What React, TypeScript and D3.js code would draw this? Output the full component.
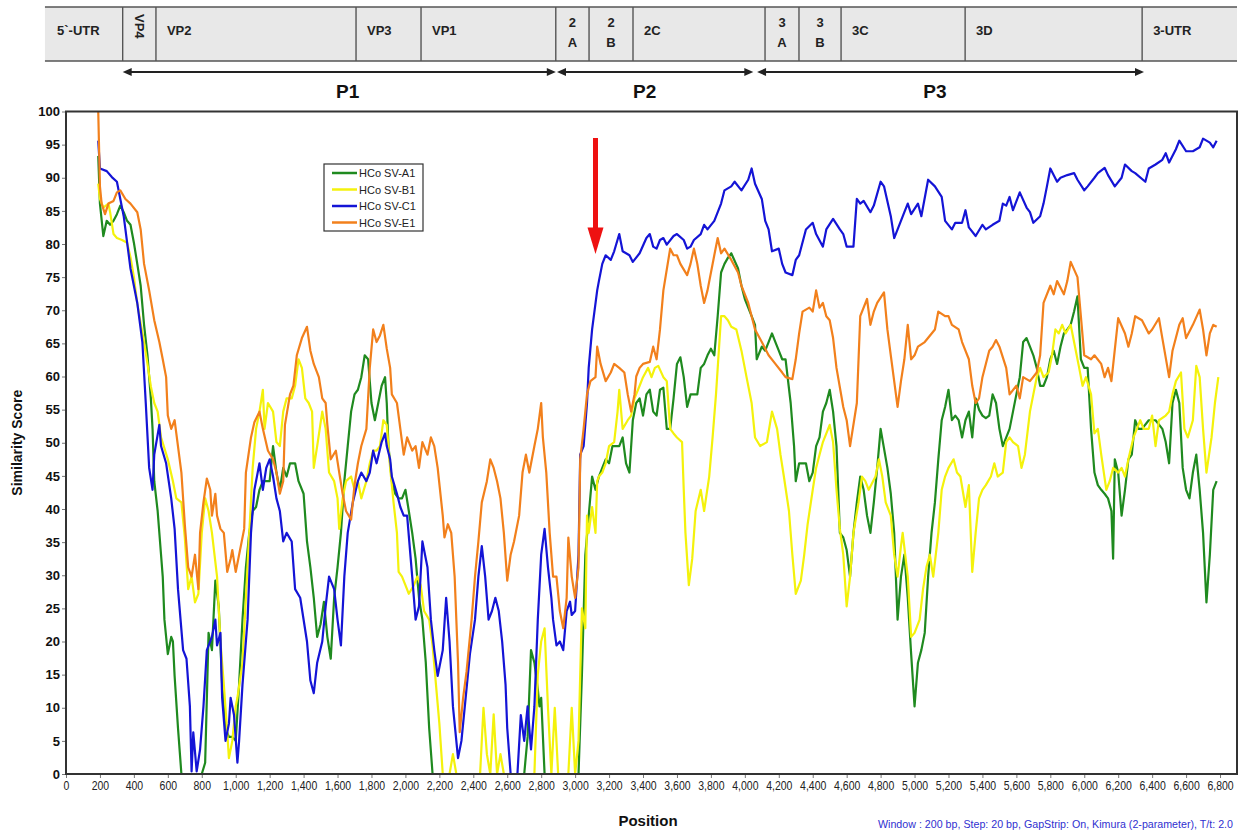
import React, { useEffect, useRef } from 'react';
import * as d3 from 'd3';

// Similarity plot (SimPlot style) of HCoSV strains against the query genome.
// Each series: [genome position (bp), similarity score (%)]

const seriesNames = ['HCo SV-A1', 'HCo SV-B1', 'HCo SV-C1', 'HCo SV-E1'];
const seriesColors = ['#1f8a1f', '#f4f20c', '#1414d6', '#f2801c'];

const scoresA1: [number, number][] = [
  [190, 93.3], [200, 86.1], [220, 81.2], [240, 83.5], [260, 82.9], [280, 83.5], [300, 84.5], [320, 85.8],
  [340, 84.8], [360, 83.5], [380, 82.9], [400, 80.2], [420, 77.0], [440, 73.7], [460, 67.8], [480, 63.2],
  [500, 56.7], [510, 52.1], [520, 44.2], [540, 39.7], [560, 33.1], [570, 29.8], [580, 23.3], [600, 18.1],
  [620, 20.7], [630, 20.0], [640, 14.8], [660, 6.9], [680, 0], [800, 0], [820, 1.7], [840, 21.3],
  [860, 18.7], [880, 29.2], [900, 25.3], [920, 13.5], [940, 6.9], [960, 5.6], [980, 5.6], [1000, 5.0],
  [1020, 13.5], [1040, 23.3], [1060, 31.2], [1080, 36.4], [1100, 39.7], [1120, 40.3], [1140, 42.9],
  [1160, 44.2], [1200, 44.2], [1220, 49.5], [1240, 45.5], [1260, 42.9], [1280, 46.2], [1300, 44.9],
  [1320, 46.9], [1350, 46.9], [1370, 44.2], [1400, 42.3], [1420, 35.1], [1440, 31.2], [1460, 26.6],
  [1480, 20.7], [1500, 22.6], [1520, 26.0], [1540, 20.7], [1560, 17.4], [1580, 26.6], [1600, 31.2],
  [1620, 36.4], [1640, 44.2], [1660, 49.5], [1680, 54.7], [1700, 57.3], [1720, 58.0], [1740, 59.9],
  [1760, 63.2], [1780, 62.6], [1800, 56.0], [1820, 53.4], [1840, 56.0], [1860, 58.6], [1880, 59.9],
  [1890, 56.0], [1900, 49.5], [1920, 44.2], [1940, 42.3], [1960, 41.6], [1980, 41.6], [2000, 42.9],
  [2020, 39.7], [2040, 36.4], [2060, 32.5], [2080, 26.6], [2100, 23.3], [2120, 16.8], [2140, 6.9],
  [2160, 0], [2700, 0], [2720, 5.6], [2740, 18.7], [2760, 16.8], [2780, 12.8], [2790, 10.2], [2800, 11.5],
  [2820, 0], [3020, 0], [3040, 15.0], [3060, 33.0], [3080, 39.0], [3100, 44.9], [3120, 42.9], [3140, 44.9],
  [3160, 46.2], [3180, 47.5], [3200, 46.9], [3220, 49.5], [3260, 49.5], [3280, 50.8], [3300, 46.9],
  [3320, 45.5], [3340, 53.4], [3360, 56.0], [3380, 56.7], [3400, 54.1], [3420, 57.3], [3440, 58.0],
  [3460, 54.7], [3480, 54.1], [3500, 58.0], [3520, 58.3], [3540, 52.1], [3560, 52.1], [3580, 56.7],
  [3600, 61.9], [3620, 62.9], [3640, 59.9], [3660, 55.4], [3680, 57.3], [3720, 57.3], [3740, 61.3],
  [3760, 61.9], [3780, 63.2], [3800, 64.2], [3820, 63.2], [3840, 69.1], [3860, 75.7], [3880, 77.0],
  [3900, 77.9], [3920, 78.6], [3960, 76.3], [3980, 73.7], [4000, 71.7], [4040, 69.1], [4060, 67.8],
  [4070, 62.6], [4100, 64.5], [4120, 63.9], [4140, 65.2], [4160, 66.5], [4180, 65.2], [4200, 63.9],
  [4220, 62.6], [4240, 62.6], [4270, 56.0], [4290, 49.5], [4300, 44.2], [4320, 46.9], [4360, 46.9],
  [4380, 44.2], [4400, 45.5], [4420, 49.5], [4440, 50.8], [4460, 54.7], [4480, 56.0], [4500, 58.0],
  [4520, 54.7], [4540, 49.5], [4560, 36.4], [4580, 35.7], [4600, 33.8], [4620, 29.8], [4640, 36.4],
  [4660, 41.0], [4680, 44.9], [4700, 42.9], [4720, 39.0], [4740, 36.4], [4760, 41.0], [4780, 46.2],
  [4800, 52.1], [4840, 46.2], [4860, 42.3], [4880, 36.4], [4900, 23.3], [4920, 29.8], [4940, 33.1],
  [4960, 26.6], [4980, 18.1], [5000, 10.2], [5020, 16.8], [5040, 18.7], [5060, 21.3], [5080, 29.8],
  [5100, 36.4], [5120, 41.0], [5140, 47.5], [5160, 53.4], [5180, 55.4], [5200, 58.0], [5220, 53.4],
  [5240, 54.1], [5260, 53.4], [5280, 50.8], [5300, 53.4], [5320, 54.7], [5340, 50.8], [5360, 56.7],
  [5380, 55.0], [5400, 54.1], [5420, 53.7], [5440, 54.1], [5460, 57.3], [5480, 56.0], [5500, 52.1],
  [5520, 49.5], [5560, 52.1], [5580, 54.7], [5600, 57.3], [5620, 59.9], [5640, 65.2], [5660, 65.8],
  [5680, 64.5], [5700, 63.2], [5720, 61.3], [5740, 58.6], [5760, 58.6], [5780, 59.9], [5800, 62.6],
  [5820, 63.9], [5840, 61.9], [5860, 64.5], [5880, 66.5], [5900, 67.1], [5920, 67.8], [5940, 69.8],
  [5960, 72.1], [5980, 62.6], [6000, 61.3], [6020, 61.3], [6040, 52.1], [6060, 45.5], [6080, 43.6],
  [6100, 42.9], [6120, 42.3], [6140, 41.6], [6160, 39.7], [6170, 32.5], [6180, 47.5], [6200, 45.5],
  [6220, 39.0], [6240, 42.9], [6260, 47.5], [6280, 48.2], [6300, 53.4], [6320, 52.1], [6340, 52.1],
  [6380, 53.4], [6420, 53.4], [6460, 52.1], [6480, 50.1], [6500, 46.9], [6520, 56.0], [6540, 58.0],
  [6560, 56.0], [6580, 46.2], [6600, 42.9], [6620, 41.6], [6640, 45.5], [6660, 48.2], [6680, 42.9],
  [6700, 36.4], [6720, 25.9], [6740, 33.1], [6760, 42.9], [6780, 44.2],
];

const scoresB1: [number, number][] = [
  [190, 89.1], [200, 86.8], [220, 85.5], [250, 86.1], [260, 84.8], [280, 81.5], [300, 80.9], [330, 80.6],
  [360, 80.2], [380, 78.0], [400, 75.0], [420, 71.0], [440, 68.0], [460, 65.2], [480, 61.9], [500, 58.5],
  [520, 56.0], [540, 54.7], [560, 50.8], [600, 47.5], [630, 44.2], [650, 41.6], [680, 41.0], [700, 35.7],
  [720, 27.9], [740, 29.8], [760, 25.9], [780, 27.2], [800, 36.4], [820, 41.6], [840, 39.7], [860, 36.4],
  [890, 29.8], [910, 20.0], [930, 13.5], [950, 6.3], [960, 2.4], [980, 5.0], [1000, 10.2], [1010, 11.5],
  [1040, 16.8], [1060, 26.6], [1080, 36.4], [1100, 46.2], [1120, 52.1], [1140, 54.7], [1160, 58.0],
  [1170, 52.1], [1190, 56.0], [1220, 54.7], [1240, 50.1], [1260, 49.5], [1280, 54.7], [1300, 56.7],
  [1330, 56.7], [1350, 58.6], [1370, 62.6], [1390, 61.3], [1410, 56.7], [1430, 56.0], [1450, 54.7],
  [1460, 46.2], [1480, 49.5], [1510, 54.7], [1530, 52.1], [1550, 45.5], [1580, 44.2], [1600, 41.6],
  [1610, 37.0], [1630, 41.6], [1650, 44.2], [1680, 44.9], [1700, 42.9], [1720, 44.2], [1740, 41.6],
  [1770, 44.2], [1790, 46.9], [1810, 48.8], [1830, 48.8], [1850, 49.5], [1870, 53.4], [1890, 52.7],
  [1910, 46.2], [1930, 41.0], [1950, 36.4], [1960, 30.5], [1980, 29.8], [2000, 28.5], [2020, 27.2],
  [2050, 28.5], [2070, 29.8], [2090, 28.5], [2110, 24.6], [2140, 23.3], [2160, 19.4], [2180, 13.5],
  [2200, 7.6], [2220, 0], [2260, 0], [2280, 3.0], [2300, 0], [2440, 0], [2460, 10.0], [2480, 3.0],
  [2500, 0], [2520, 9.0], [2540, 0], [2560, 3.0], [2580, 0], [2760, 0], [2780, 15.0], [2800, 20.0],
  [2820, 22.0], [2840, 10.0], [2860, 0], [2880, 10.0], [2900, 0], [2960, 0], [2980, 10.0], [3000, 0],
  [3020, 5.0], [3040, 25.0], [3060, 22.0], [3070, 39.0], [3080, 36.4], [3100, 40.3], [3120, 36.4],
  [3130, 44.2], [3140, 44.9], [3160, 45.5], [3180, 46.9], [3200, 49.5], [3230, 50.1], [3250, 54.7],
  [3260, 58.0], [3280, 52.1], [3310, 53.4], [3330, 54.1], [3350, 56.7], [3380, 58.6], [3400, 59.9],
  [3430, 61.3], [3450, 59.9], [3470, 61.3], [3490, 61.6], [3520, 59.9], [3540, 59.3], [3560, 52.1],
  [3580, 51.4], [3600, 50.8], [3630, 50.1], [3640, 42.9], [3650, 36.4], [3670, 28.5], [3690, 32.5],
  [3710, 39.7], [3740, 42.9], [3760, 39.7], [3790, 44.9], [3810, 50.8], [3830, 57.3], [3860, 69.1],
  [3880, 69.1], [3900, 68.5], [3920, 67.5], [3950, 67.1], [3980, 63.9], [4010, 59.9], [4040, 56.0],
  [4060, 50.8], [4090, 49.5], [4130, 50.1], [4160, 54.7], [4190, 52.1], [4210, 48.2], [4230, 44.9],
  [4260, 39.7], [4280, 33.1], [4300, 27.2], [4330, 29.2], [4350, 33.1], [4370, 37.7], [4400, 42.9],
  [4420, 46.2], [4440, 48.2], [4460, 50.1], [4500, 52.7], [4520, 50.1], [4540, 42.9], [4560, 37.0],
  [4580, 33.1], [4600, 25.3], [4620, 29.8], [4640, 36.4], [4670, 41.0], [4690, 44.9], [4710, 44.2],
  [4730, 42.9], [4770, 44.9], [4790, 47.5], [4810, 44.9], [4830, 41.0], [4860, 39.0], [4880, 33.1],
  [4900, 29.8], [4920, 34.4], [4930, 36.4], [4960, 29.8], [4980, 20.7], [5000, 21.3], [5030, 23.3],
  [5050, 27.9], [5070, 31.2], [5090, 33.1], [5110, 29.8], [5140, 36.4], [5160, 42.9], [5180, 44.9],
  [5200, 46.2], [5230, 47.5], [5250, 45.5], [5270, 44.9], [5300, 40.3], [5320, 43.6], [5340, 30.5],
  [5360, 36.4], [5380, 41.6], [5400, 42.9], [5420, 43.6], [5450, 44.9], [5470, 46.9], [5490, 44.9],
  [5520, 45.5], [5540, 50.1], [5560, 50.8], [5580, 50.1], [5610, 49.5], [5630, 46.2], [5650, 48.2],
  [5680, 54.7], [5700, 57.3], [5720, 59.9], [5740, 61.3], [5760, 59.9], [5790, 60.6], [5810, 63.2],
  [5830, 67.1], [5850, 66.5], [5870, 67.8], [5890, 66.5], [5920, 67.8], [5940, 65.2], [5970, 61.3],
  [5990, 58.6], [6010, 59.9], [6040, 57.3], [6060, 51.4], [6080, 52.1], [6100, 48.2], [6130, 42.9],
  [6150, 44.2], [6170, 46.2], [6200, 45.5], [6220, 46.2], [6240, 44.9], [6260, 47.5], [6290, 50.8],
  [6310, 52.1], [6330, 53.4], [6350, 52.1], [6380, 52.1], [6400, 54.1], [6420, 49.5], [6440, 53.4],
  [6480, 54.1], [6500, 54.7], [6520, 57.3], [6540, 59.3], [6570, 60.6], [6590, 52.1], [6610, 50.8],
  [6640, 53.4], [6660, 61.6], [6680, 59.9], [6700, 52.1], [6720, 45.5], [6750, 50.8], [6770, 56.0],
  [6790, 59.9],
];

const scoresC1: [number, number][] = [
  [190, 95.6], [200, 91.4], [240, 91.0], [270, 90.1], [300, 89.4], [340, 84.2], [380, 76.3], [420, 71.1],
  [450, 65.2], [470, 56.0], [490, 46.2], [510, 42.9], [520, 48.2], [550, 52.7], [560, 49.5], [590, 46.9],
  [620, 41.6], [640, 37.0], [660, 27.9], [690, 18.7], [710, 17.4], [730, 10.2], [740, 0.4], [750, 6.3],
  [770, 0.4], [790, 3.7], [810, 10.2], [830, 18.7], [860, 20.7], [880, 23.3], [890, 19.4], [910, 21.3],
  [920, 11.5], [940, 5.0], [960, 7.6], [970, 11.5], [990, 8.9], [1010, 1.7], [1020, 5.0], [1040, 13.5],
  [1070, 23.3], [1090, 36.4], [1110, 42.9], [1140, 46.9], [1160, 42.9], [1180, 46.2], [1200, 47.5],
  [1220, 44.9], [1240, 41.6], [1260, 39.7], [1280, 35.1], [1300, 36.4], [1330, 35.1], [1350, 27.9],
  [1380, 26.6], [1420, 20.0], [1440, 14.1], [1460, 12.2], [1480, 16.8], [1510, 20.0], [1530, 25.3],
  [1550, 29.8], [1580, 27.9], [1600, 23.3], [1620, 19.4], [1640, 29.8], [1660, 36.4], [1690, 41.0],
  [1720, 44.2], [1740, 45.5], [1770, 44.2], [1790, 45.5], [1810, 48.8], [1830, 46.9], [1860, 50.1],
  [1880, 51.4], [1890, 49.5], [1910, 47.5], [1920, 44.9], [1950, 42.3], [1970, 40.3], [1990, 39.0],
  [2010, 39.0], [2040, 29.8], [2060, 23.3], [2080, 25.3], [2100, 35.1], [2130, 31.2], [2150, 23.3],
  [2170, 18.7], [2190, 14.8], [2220, 18.7], [2240, 26.6], [2260, 20.0], [2280, 10.2], [2310, 2.4],
  [2330, 5.0], [2350, 10.2], [2380, 18.1], [2410, 23.3], [2430, 29.8], [2450, 34.4], [2470, 29.8],
  [2490, 23.3], [2510, 24.6], [2530, 26.6], [2550, 24.6], [2570, 20.0], [2590, 13.5], [2600, 6.9],
  [2620, 0], [2660, 0], [2680, 8.9], [2700, 5.0], [2720, 10.2], [2740, 3.7], [2760, 10.2], [2780, 23.3],
  [2800, 33.1], [2820, 37.0], [2840, 31.2], [2860, 26.6], [2870, 23.3], [2890, 19.4], [2910, 20.0],
  [2930, 18.7], [2950, 24.6], [2970, 26.0], [2980, 24.0], [3000, 24.6], [3020, 33.1], [3030, 48.2],
  [3050, 49.5], [3070, 56.0], [3080, 61.3], [3100, 67.1], [3130, 73.0], [3140, 74.4], [3160, 77.0],
  [3180, 78.3], [3210, 77.6], [3230, 78.9], [3260, 81.5], [3280, 78.9], [3320, 78.3], [3340, 77.3],
  [3380, 78.6], [3420, 80.9], [3440, 81.5], [3460, 79.6], [3480, 79.3], [3500, 80.6], [3520, 80.9],
  [3540, 79.9], [3580, 81.2], [3600, 81.5], [3640, 80.6], [3660, 79.3], [3680, 79.6], [3700, 80.6],
  [3740, 81.5], [3760, 82.9], [3780, 82.2], [3820, 83.5], [3860, 86.1], [3880, 88.1], [3920, 88.7],
  [3940, 89.4], [3980, 88.1], [4020, 89.7], [4040, 91.4], [4060, 89.1], [4100, 86.8], [4120, 83.5],
  [4140, 82.2], [4160, 78.9], [4200, 79.3], [4220, 77.0], [4240, 75.7], [4280, 75.3], [4300, 77.6],
  [4320, 78.3], [4360, 82.2], [4400, 83.2], [4420, 81.5], [4460, 79.6], [4480, 82.2], [4520, 83.8],
  [4560, 82.2], [4580, 81.5], [4600, 79.6], [4640, 79.6], [4660, 86.8], [4680, 86.1], [4700, 86.5],
  [4740, 84.8], [4760, 85.8], [4800, 89.4], [4820, 88.7], [4860, 84.2], [4880, 80.9], [4940, 84.8],
  [4960, 86.1], [4980, 84.5], [5020, 86.1], [5040, 84.2], [5080, 89.7], [5120, 88.7], [5160, 87.1],
  [5180, 83.5], [5220, 82.2], [5240, 83.2], [5280, 83.2], [5300, 85.1], [5320, 82.5], [5360, 81.2],
  [5400, 82.9], [5420, 82.2], [5460, 82.9], [5500, 83.5], [5520, 86.1], [5540, 85.8], [5560, 87.1],
  [5580, 85.1], [5620, 87.8], [5660, 85.5], [5680, 84.8], [5700, 83.2], [5740, 84.2], [5760, 86.1],
  [5780, 88.7], [5800, 91.4], [5840, 89.4], [5860, 90.0], [5900, 90.4], [5940, 90.7], [5960, 89.7],
  [6000, 88.1], [6020, 88.7], [6060, 90.0], [6080, 90.7], [6120, 91.5], [6140, 90.4], [6180, 88.7],
  [6220, 90.0], [6240, 92.0], [6280, 91.0], [6300, 90.7], [6360, 89.4], [6380, 91.4], [6420, 92.0],
  [6460, 92.7], [6480, 93.7], [6500, 92.3], [6540, 94.3], [6560, 95.6], [6600, 94.0], [6640, 94.0],
  [6680, 94.6], [6700, 95.9], [6740, 95.3], [6760, 94.6], [6780, 95.6],
];

const scoresE1: [number, number][] = [
  [190, 100], [200, 88.7], [210, 86.1], [230, 84.5], [250, 86.1], [280, 86.5], [300, 87.8], [320, 88.1],
  [350, 86.8], [380, 86.1], [420, 84.8], [440, 82.2], [460, 77.0], [490, 73.0], [520, 68.5], [550, 65.2],
  [570, 62.6], [590, 59.9], [600, 54.1], [620, 52.1], [640, 53.4], [650, 51.4], [680, 45.5], [700, 37.7],
  [720, 31.2], [740, 29.8], [760, 33.1], [780, 27.9], [790, 36.4], [810, 41.0], [830, 44.6], [850, 42.9],
  [860, 39.0], [880, 42.3], [890, 39.0], [910, 37.0], [930, 36.4], [950, 30.5], [970, 32.5], [980, 33.8],
  [1000, 30.5], [1020, 33.1], [1050, 37.0], [1060, 45.5], [1090, 50.8], [1110, 53.1], [1140, 54.7],
  [1160, 52.1], [1190, 48.8], [1220, 47.5], [1240, 45.5], [1260, 42.3], [1280, 44.2], [1290, 52.7],
  [1320, 57.3], [1340, 58.6], [1360, 63.2], [1390, 65.8], [1420, 67.5], [1440, 63.9], [1460, 61.9],
  [1490, 59.9], [1510, 56.7], [1530, 56.0], [1540, 52.7], [1560, 47.5], [1590, 48.8], [1610, 45.5],
  [1630, 42.3], [1650, 39.7], [1680, 38.4], [1700, 43.6], [1720, 46.9], [1740, 49.5], [1770, 52.1],
  [1790, 61.3], [1810, 67.1], [1830, 65.2], [1850, 66.2], [1870, 67.8], [1890, 64.2], [1910, 61.3],
  [1920, 57.3], [1950, 56.0], [1970, 52.1], [1990, 48.2], [2010, 50.8], [2040, 48.8], [2060, 49.5],
  [2080, 46.2], [2100, 50.1], [2130, 48.2], [2150, 50.8], [2170, 49.5], [2190, 46.2], [2220, 39.0],
  [2230, 35.7], [2250, 37.7], [2270, 36.4], [2290, 29.8], [2310, 16.8], [2320, 6.3], [2340, 11.5],
  [2360, 15.4], [2390, 23.3], [2410, 29.8], [2430, 35.1], [2450, 41.0], [2480, 44.2], [2500, 47.5],
  [2520, 46.2], [2540, 44.2], [2560, 41.6], [2580, 36.4], [2600, 29.2], [2620, 33.1], [2640, 35.1],
  [2670, 39.0], [2690, 45.5], [2710, 48.2], [2730, 45.5], [2760, 49.5], [2780, 52.1], [2800, 56.0],
  [2810, 50.8], [2830, 45.5], [2850, 36.4], [2870, 29.8], [2890, 29.8], [2910, 24.6], [2930, 22.0],
  [2950, 26.6], [2960, 35.7], [2980, 29.8], [3000, 26.6], [3020, 31.2], [3030, 47.5], [3050, 52.1],
  [3070, 57.3], [3090, 59.3], [3120, 59.9], [3130, 64.5], [3150, 61.9], [3180, 59.3], [3210, 60.6],
  [3230, 61.9], [3260, 61.3], [3290, 60.6], [3310, 57.3], [3330, 54.7], [3350, 57.3], [3360, 60.0],
  [3380, 61.3], [3400, 61.9], [3440, 62.2], [3460, 64.5], [3480, 62.6], [3500, 67.1], [3520, 73.0],
  [3560, 79.3], [3580, 78.3], [3600, 78.3], [3620, 77.0], [3660, 75.3], [3680, 77.0], [3700, 79.3],
  [3720, 77.0], [3740, 73.7], [3760, 71.1], [3780, 73.0], [3820, 78.3], [3840, 80.9], [3860, 78.6],
  [3880, 79.3], [3920, 77.6], [3960, 75.7], [3980, 73.7], [4020, 71.1], [4040, 69.1], [4060, 67.1],
  [4100, 65.2], [4140, 63.2], [4180, 61.9], [4220, 60.6], [4240, 59.9], [4280, 59.6], [4300, 62.6],
  [4320, 66.5], [4340, 69.8], [4380, 70.4], [4400, 69.8], [4420, 73.0], [4440, 70.4], [4460, 71.1],
  [4480, 69.1], [4500, 68.5], [4520, 65.8], [4540, 61.3], [4580, 55.4], [4600, 53.4], [4620, 49.5],
  [4660, 56.0], [4680, 69.1], [4720, 71.7], [4740, 67.8], [4760, 69.8], [4780, 71.1], [4820, 72.7],
  [4840, 67.1], [4860, 63.2], [4880, 59.3], [4900, 55.4], [4920, 59.3], [4940, 62.6], [4960, 67.8],
  [4980, 62.6], [5000, 63.2], [5020, 64.5], [5060, 65.2], [5120, 67.1], [5140, 69.8], [5180, 69.1],
  [5200, 69.1], [5220, 67.8], [5260, 67.1], [5280, 65.2], [5320, 62.6], [5340, 58.6], [5360, 56.0],
  [5380, 56.7], [5400, 59.9], [5440, 63.9], [5460, 64.5], [5480, 65.5], [5500, 64.5], [5540, 61.3],
  [5560, 57.3], [5600, 58.6], [5620, 56.7], [5640, 59.9], [5680, 59.3], [5720, 60.6], [5740, 63.2],
  [5760, 71.1], [5800, 73.7], [5820, 72.4], [5840, 74.4], [5880, 72.4], [5900, 74.4], [5920, 77.3],
  [5960, 75.0], [5980, 69.1], [6000, 63.2], [6040, 62.6], [6060, 63.2], [6100, 61.9], [6120, 59.9],
  [6140, 61.3], [6160, 59.3], [6200, 68.8], [6240, 66.5], [6260, 64.5], [6280, 66.5], [6300, 69.1],
  [6340, 68.5], [6380, 66.5], [6400, 67.1], [6440, 68.8], [6460, 65.8], [6500, 59.9], [6520, 63.9],
  [6560, 67.8], [6580, 68.8], [6600, 65.8], [6640, 67.8], [6680, 70.1], [6700, 67.1], [6720, 63.2],
  [6740, 66.5], [6760, 67.8], [6780, 67.5],
];

// genome map drawn above the plot (boundaries in bp on the same x scale)
const genomeRegions = ['5`-UTR', 'VP4', 'VP2', 'VP3', 'VP1', '2\nA', '2\nB', '2C', '3\nA', '3\nB', '3C', '3D', '3-UTR'];
const genomeBounds = [-124, 334, 530, 1709, 2092, 2886, 3082, 3341, 4119, 4319, 4567, 5298, 6341, 6900];
const polyproteins = ['P1', 'P2', 'P3'];
const polyStarts = [334, 2893, 4072];
const polyEnds = [2886, 4050, 6352];
const polyLabelAt = [1660, 3410, 5120];

const yTicks = d3.range(0, 101, 5);
const xTicks = d3.range(0, 6801, 200);
const arrowAt = 3120;

const FONT = '"Liberation Sans", Arial, Helvetica, sans-serif';

const App = () => {
  const ref = useRef<SVGSVGElement | null>(null);

  useEffect(() => {
    document.body.style.margin = '0';
    const svg = d3.select(ref.current);
    svg.selectAll('*').remove();

    const x = d3.scaleLinear().domain([0, 6900]).range([66, 1237]);
    const y = d3.scaleLinear().domain([0, 100]).range([774, 111.5]);

    // --- genome map ---
    const map = svg.append('g');
    map.append('rect')
      .attr('x', x(genomeBounds[0]))
      .attr('y', 7)
      .attr('width', x(genomeBounds[genomeBounds.length - 1]) - x(genomeBounds[0]))
      .attr('height', 54)
      .attr('fill', '#e8e8e8');
    [7, 61].forEach(yy => {
      map.append('line')
        .attr('x1', x(genomeBounds[0])).attr('x2', x(genomeBounds[genomeBounds.length - 1]))
        .attr('y1', yy).attr('y2', yy)
        .attr('stroke', '#555').attr('stroke-width', 1.6);
    });
    genomeBounds.slice(1, -1).forEach(b => {
      map.append('line')
        .attr('x1', x(b)).attr('x2', x(b)).attr('y1', 7).attr('y2', 61)
        .attr('stroke', '#555').attr('stroke-width', 1.4);
    });
    genomeRegions.forEach((name, i) => {
      const x0 = x(genomeBounds[i]);
      const x1 = x(genomeBounds[i + 1]);
      const t = map.append('text')
        .attr('font-family', FONT).attr('font-weight', 'bold').attr('font-size', 13)
        .attr('fill', '#222');
      if (name === 'VP4') {
        t.attr('transform', `translate(${(x0 + x1) / 2 - 4},${14}) rotate(90)`)
          .attr('text-anchor', 'start').text(name);
      } else if (name.includes('\n')) {
        const parts = name.split('\n');
        t.attr('text-anchor', 'middle');
        t.append('tspan').attr('x', (x0 + x1) / 2).attr('y', 27).text(parts[0]);
        t.append('tspan').attr('x', (x0 + x1) / 2).attr('y', 47).text(parts[1]);
      } else {
        t.attr('x', i === 0 ? 57 : x0 + 11).attr('y', 35).text(name);
      }
    });

    // polyprotein arrows
    const head = (px: number, py: number, dir: number) =>
      `M${px},${py} L${px - dir * 9},${py - 4} L${px - dir * 9},${py + 4} Z`;
    polyproteins.forEach((p, i) => {
      const a = x(polyStarts[i]);
      const b = x(polyEnds[i]);
      map.append('line').attr('x1', a + 4).attr('x2', b - 4).attr('y1', 72).attr('y2', 72)
        .attr('stroke', '#222').attr('stroke-width', 2);
      map.append('path').attr('d', head(a, 72, -1)).attr('fill', '#222');
      map.append('path').attr('d', head(b, 72, 1)).attr('fill', '#222');
      map.append('text')
        .attr('x', x(polyLabelAt[i])).attr('y', 98)
        .attr('text-anchor', 'middle')
        .attr('font-family', FONT).attr('font-weight', 'bold').attr('font-size', 19)
        .attr('fill', '#111')
        .text(p);
    });

    // --- axes ---
    const yAxis = svg.append('g')
      .attr('transform', `translate(${x(0)},0)`)
      .call(d3.axisLeft(y).tickValues(yTicks).tickSize(4).tickSizeOuter(0));
    yAxis.select('.domain').remove();
    yAxis.selectAll('line').attr('stroke', '#777');
    yAxis.selectAll('text')
      .attr('font-family', FONT).attr('font-weight', 'bold').attr('font-size', 13)
      .attr('fill', '#111').attr('x', -6);

    const xAxis = svg.append('g')
      .attr('transform', `translate(0,${y(0)})`)
      .call(d3.axisBottom(x).tickValues(xTicks).tickFormat(d3.format(',')).tickSize(4).tickSizeOuter(0));
    xAxis.select('.domain').remove();
    xAxis.selectAll('line').attr('stroke', '#777');
    xAxis.selectAll('text')
      .attr('font-family', FONT).attr('font-size', 12.5)
      .attr('fill', '#222').attr('y', 7)
      .attr('transform', 'scale(0.84,1)');

    // --- lines ---
    const plot = svg.append('g');
    svg.append('clipPath').attr('id', 'plotclip')
      .append('rect').attr('x', x(0)).attr('y', y(100) - 2)
      .attr('width', x(6900) - x(0)).attr('height', y(0) - y(100) + 2);
    const line = d3.line<[number, number]>()
      .x(d => x(d[0]))
      .y(d => y(d[1]));
    const all = [scoresA1, scoresB1, scoresC1, scoresE1];
    all.forEach((s, i) => {
      plot.append('path')
        .datum(s)
        .attr('clip-path', 'url(#plotclip)')
        .attr('d', line)
        .attr('fill', 'none')
        .attr('stroke', seriesColors[i])
        .attr('stroke-width', 2.2)
        .attr('stroke-linejoin', 'round');
    });

    // frame
    svg.append('rect')
      .attr('x', x(0)).attr('y', y(100))
      .attr('width', x(6900) - x(0)).attr('height', y(0) - y(100))
      .attr('fill', 'none').attr('stroke', '#333').attr('stroke-width', 2);

    // red arrow marking the recombination point
    const ax = x(arrowAt);
    svg.append('rect')
      .attr('x', ax - 2.5).attr('y', y(96))
      .attr('width', 5).attr('height', y(82) - y(96))
      .attr('fill', '#ee1111');
    svg.append('path')
      .attr('d', `M${ax - 8},${y(82.5)} L${ax + 8},${y(82.5)} L${ax},${y(78.5)} Z`)
      .attr('fill', '#ee1111');

    // legend
    const lg = svg.append('g').attr('transform', 'translate(324,164)');
    lg.append('rect').attr('width', 99).attr('height', 67)
      .attr('fill', '#fff').attr('stroke', '#333').attr('stroke-width', 1.2);
    seriesNames.forEach((n, i) => {
      const yy = 9 + i * 16.5;
      lg.append('line').attr('x1', 8).attr('x2', 33).attr('y1', yy).attr('y2', yy)
        .attr('stroke', seriesColors[i]).attr('stroke-width', 2.5);
      lg.append('text').attr('x', 35).attr('y', yy + 4)
        .attr('font-family', FONT).attr('font-size', 11).attr('fill', '#222')
        .text(n);
    });

    // axis titles
    svg.append('text')
      .attr('transform', `translate(22,${(y(0) + y(100)) / 2}) rotate(-90)`)
      .attr('text-anchor', 'middle')
      .attr('font-family', FONT).attr('font-weight', 'bold').attr('font-size', 14)
      .attr('fill', '#111')
      .text('Similarity Score');
    svg.append('text')
      .attr('x', 648).attr('y', 826)
      .attr('text-anchor', 'middle')
      .attr('font-family', FONT).attr('font-weight', 'bold').attr('font-size', 15)
      .attr('fill', '#111')
      .text('Position');
    svg.append('text')
      .attr('x', 878).attr('y', 828)
      .attr('textLength', 355).attr('lengthAdjust', 'spacingAndGlyphs')
      .attr('font-family', FONT).attr('font-size', 10.5)
      .attr('fill', '#3030d0')
      .text('Window : 200 bp, Step: 20 bp, GapStrip: On, Kimura (2-parameter), T/t: 2.0');
  }, []);

  return <svg ref={ref} width={1245} height={837} style={{ display: 'block', background: '#fff' }} />;
};

export default App;
